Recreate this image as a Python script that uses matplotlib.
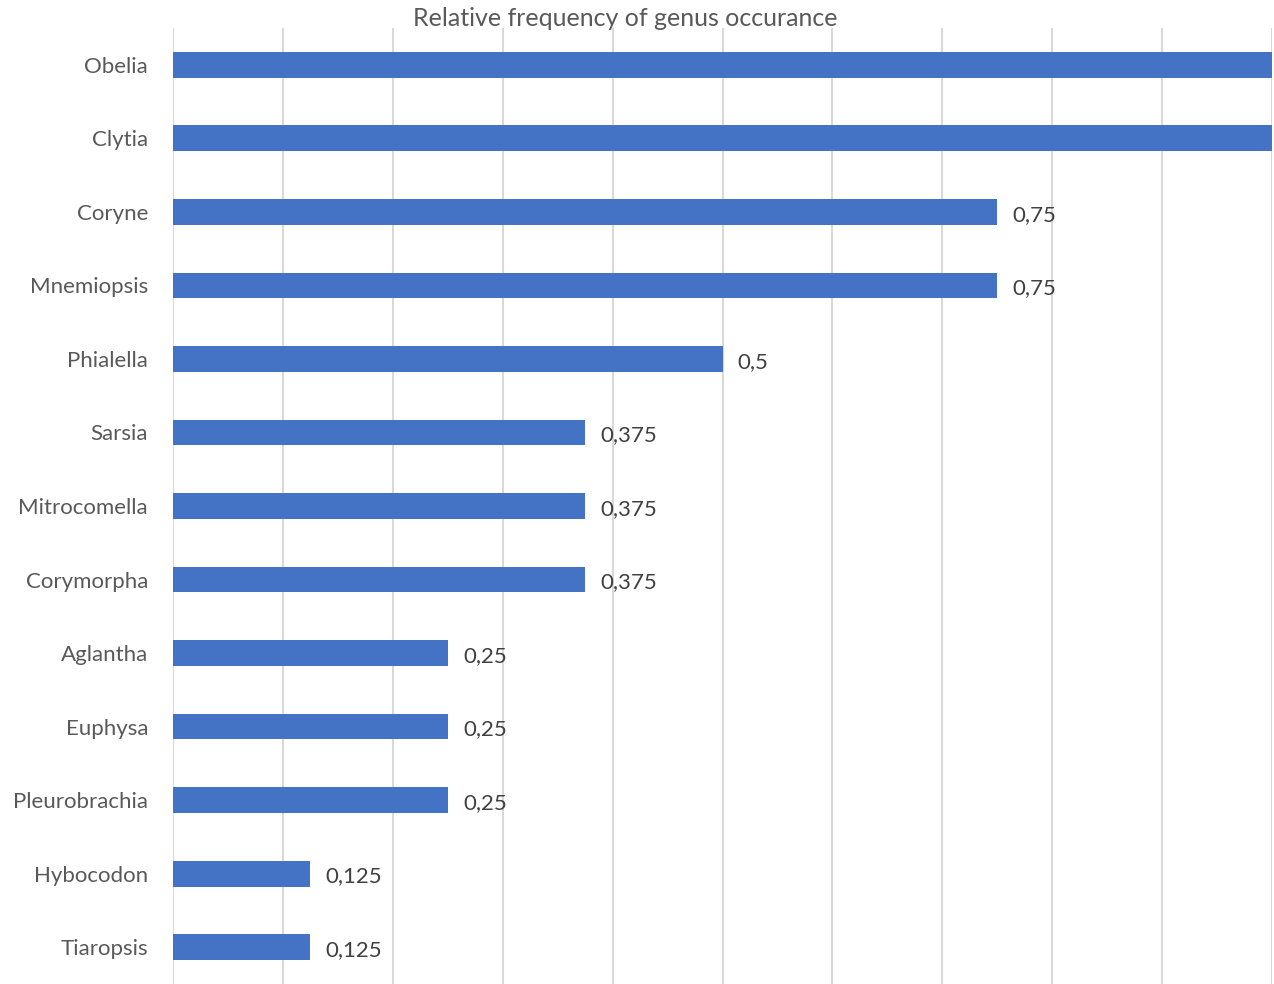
import matplotlib.pyplot as plt

genera = ['Obelia', 'Clytia', 'Coryne', 'Mnemiopsis', 'Phialella', 'Sarsia',
          'Mitrocomella', 'Corymorpha', 'Aglantha', 'Euphysa', 'Pleurobrachia',
          'Hybocodon', 'Tiaropsis']
freq = [1.0, 1.0, 0.75, 0.75, 0.5, 0.375, 0.375, 0.375, 0.25, 0.25, 0.25, 0.125, 0.125]

plt.rcParams['font.family'] = ['Lato', 'DejaVu Sans']

fig = plt.figure(figsize=(12.74, 9.84), dpi=100)
ax = fig.add_axes([173 / 1274, 0.0, 1099 / 1274, 1 - 28 / 984])

pos = list(range(len(genera)))
ax.barh(pos, freq, height=0.35, color='#4472C4', zorder=3)
ax.set_xlim(0, 1)
ax.set_ylim(len(genera) - 0.5, -0.5)
ax.set_xticks([i / 10 for i in range(11)])
ax.set_xticklabels([])
ax.tick_params(axis='x', length=0)
ax.tick_params(axis='y', length=0, pad=18, labelsize=16, labelcolor='#595959')
ax.set_yticks(pos)
ax.set_yticklabels(genera)
ax.grid(axis='x', color='#D9D9D9', linewidth=1.5, zorder=0)
for s in ax.spines.values():
    s.set_visible(False)

for p, v in zip(pos, freq):
    if v < 1:
        ax.annotate(f'{v:g}'.replace('.', ','), (v, p), xytext=(11, -2),
                    textcoords='offset points', va='center', ha='left',
                    fontsize=16, color='#404040')

fig.text(625 / 1274, 1 - 19 / 984, 'Relative frequency of genus occurance',
         ha='center', va='center', fontsize=18, color='#595959')

fig.savefig('out.png', dpi=100)
